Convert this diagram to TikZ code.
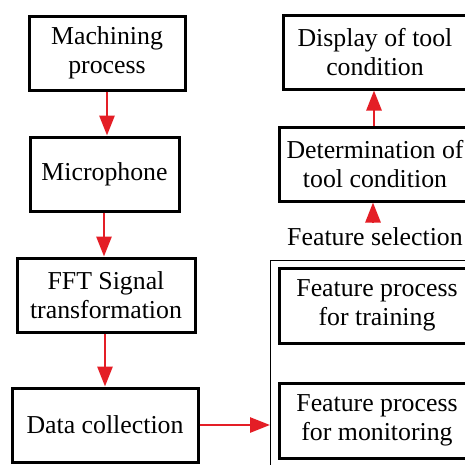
\documentclass[tikz,border=0pt]{standalone}
\usepackage{fontspec}
\setmainfont{Liberation Serif}
\usetikzlibrary{arrows.meta}
\definecolor{arrred}{RGB}{228,30,38}
\begin{document}
\begin{tikzpicture}[x=1pt,y=-1pt,
  box/.style={draw=black,line width=3pt,minimum height=74pt,align=center,inner sep=0pt,
    font=\fontsize{25.8pt}{29pt}\selectfont},
  flow/.style={draw=arrred,line width=2.8pt,-{Triangle[length=20pt,width=15pt]}},
  lbl/.style={font=\fontsize{25.8pt}{29pt}\selectfont,inner sep=0pt}]
\useasboundingbox (0,0) rectangle (465,464);
\clip (0,0) rectangle (465,464);
\node[box,minimum width=156pt] (mach) at (107,53) {Machining\\process};
\node[box,minimum width=149pt] (mic) at (104.5,174) {Microphone};
\node[box,minimum width=178pt] (fft) at (106,295) {FFT Signal\\transformation};
\node[box,minimum width=186pt] (data) at (105,425) {Data collection};
\node[box,minimum width=184pt] (disp) at (375,52) {Display of tool\\condition};
\node[box,minimum width=192pt] (det) at (375,164) {Determination of\\tool condition};
\node[lbl] (sel) at (375,237) {Feature selection};
\node[draw=black,line width=0.8pt,minimum width=260pt,minimum height=260pt,inner sep=0pt,anchor=north west] (outer) at (270,260) {};
\node[box,minimum width=196pt,minimum height=75pt] (train) at (377,305.5) {Feature process\\for training};
\node[box,minimum width=196pt,minimum height=75pt] (mon) at (377,420.5) {Feature process\\for monitoring};
\draw[flow] (mach.south -| 107,0) -- (mic.north -| 107,0);
\draw[flow] (mic.south -| 104,0) -- (fft.north -| 104,0);
\draw[flow] (fft.south -| 105,0) -- (data.north -| 105,0);
\draw[flow] (data.east) -- (outer.west |- data.east);
\draw[flow] (det.north -| 374,0) -- (disp.south -| 374,0);
\coordinate (selTop) at (373,223);
\draw[flow] (selTop) -- (det.south -| 373,0);
\end{tikzpicture}
\end{document}
